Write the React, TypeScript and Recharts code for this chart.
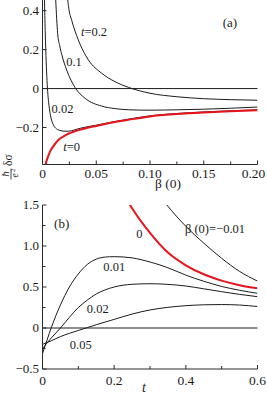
import React from 'react';
import { LineChart, Line, XAxis, YAxis, ReferenceLine, ReferenceDot } from 'recharts';

const SERIF = "'Liberation Serif', 'DejaVu Serif', 'Times New Roman', serif";
const INK = '#1c1c1c';
const FRAME = '#2a2a2a';
const RED = '#e8141c';

// ---------- Panel (a): x = β(0), y = (ħ/e²) δσ ----------
const aXDomain: [number, number] = [0, 0.2];
const aYDomain: [number, number] = [-0.39, 0.46];
const aXMajor = [0, 0.05, 0.1, 0.15, 0.2];
const aXMajorText = ['0', '0.05', '0.10', '0.15', '0.20'];
const aXMinor = [0.025, 0.075, 0.125, 0.175];
const aYMajor = [-0.2, 0, 0.2, 0.4];
const aYMajorText = ['\u22120.2', '0', '0.2', '0.4'];
const aYMinor = [-0.3, -0.1, 0.1, 0.3];

// t = 0 (red)
const aT0 = [
  [0.0018, -0.46], [0.003, -0.39], [0.0045, -0.36], [0.007, -0.324], [0.01, -0.297],
  [0.0147, -0.264], [0.02, -0.244], [0.024, -0.232], [0.03, -0.219], [0.04, -0.204],
  [0.05, -0.192], [0.0675, -0.172], [0.08, -0.16], [0.1, -0.143], [0.125, -0.131],
  [0.15, -0.123], [0.175, -0.117], [0.2, -0.112],
];
// t = 0.02
const aT002 = [
  [0.0015, 0.6], [0.0019, 0.45], [0.0026, 0.28], [0.0034, 0.14], [0.0042, 0.04],
  [0.005, -0.03], [0.006, -0.085], [0.0075, -0.14], [0.01, -0.185], [0.013, -0.207],
  [0.0163, -0.215], [0.02, -0.219], [0.024, -0.219], [0.03, -0.212], [0.035, -0.204],
  [0.04, -0.198], [0.05, -0.188], [0.0675, -0.169], [0.08, -0.157], [0.1, -0.14],
  [0.125, -0.128], [0.15, -0.12], [0.175, -0.114], [0.2, -0.109],
];
// t = 0.1
const aT01 = [
  [0.011, 0.62], [0.0123, 0.455], [0.0141, 0.283], [0.016, 0.22], [0.0179, 0.175],
  [0.0225, 0.095], [0.0303, 0.005], [0.0396, -0.05], [0.055, -0.09], [0.0675, -0.103],
  [0.08, -0.109], [0.1, -0.111], [0.125, -0.109], [0.15, -0.106], [0.175, -0.101],
  [0.2, -0.095],
];
// t = 0.2
const aT02 = [
  [0.0225, 0.52], [0.0235, 0.455], [0.0245, 0.41], [0.0272, 0.35], [0.0333, 0.25],
  [0.0427, 0.147], [0.055, 0.079], [0.0675, 0.035], [0.08, 0.006], [0.1, -0.024],
  [0.125, -0.042], [0.15, -0.052], [0.175, -0.057], [0.2, -0.06],
];

// ---------- Panel (b): x = t, y = (ħ/e²) δσ ----------
const bXDomain: [number, number] = [0, 0.6];
const bYDomain: [number, number] = [-0.5, 1.5];
const bXMajor = [0, 0.2, 0.4, 0.6];
const bXMajorText = ['0', '0.2', '0.4', '0.6'];
const bXMinor = [0.1, 0.3, 0.5];
const bYMajor = [-0.5, 0, 0.5, 1, 1.5];
const bYMajorText = ['\u22120.5', '0', '0.5', '1.0', '1.5'];
const bYMinor = [-0.25, 0.25, 0.75, 1.25];

// β(0) = −0.01
const bNeg001 = [
  [0.3, 1.77], [0.347, 1.5], [0.4, 1.24], [0.45, 1.035], [0.5, 0.85], [0.55, 0.69], [0.6, 0.572],
];
// β(0) = 0 (red)
const bZero = [
  [0.2, 1.86], [0.25, 1.46], [0.3, 1.16], [0.35, 0.92], [0.4, 0.765], [0.45, 0.655],
  [0.5, 0.578], [0.55, 0.522], [0.6, 0.485],
];
// β(0) = 0.01
const b001 = [
  [0, -0.31], [0.0125, -0.15], [0.025, 0.01], [0.05, 0.28], [0.075, 0.5], [0.1, 0.66],
  [0.125, 0.775], [0.15, 0.84], [0.175, 0.865], [0.2, 0.87], [0.25, 0.855], [0.3, 0.805],
  [0.35, 0.735], [0.4, 0.645], [0.45, 0.57], [0.5, 0.507], [0.55, 0.46], [0.6, 0.423],
];
// β(0) = 0.02
const b002 = [
  [0, -0.25], [0.025, -0.12], [0.05, 0.0], [0.075, 0.13], [0.1, 0.25], [0.125, 0.34],
  [0.15, 0.415], [0.175, 0.465], [0.2, 0.5], [0.25, 0.533], [0.3, 0.54], [0.35, 0.532],
  [0.4, 0.512], [0.45, 0.478], [0.5, 0.443], [0.55, 0.41], [0.6, 0.382],
];
// β(0) = 0.05
const b005 = [
  [0, -0.2], [0.025, -0.155], [0.05, -0.105], [0.075, -0.065], [0.1, -0.03], [0.125, 0.005],
  [0.15, 0.04], [0.2, 0.105], [0.25, 0.17], [0.3, 0.22], [0.35, 0.252], [0.4, 0.272],
  [0.45, 0.283], [0.5, 0.286], [0.55, 0.28], [0.6, 0.262],
];

const toPts = (arr: number[][]) => arr.map(([x, y]) => ({ x, y }));

type Side = 'left' | 'right' | 'bottom' | 'top';

const textStyle = (size: number, italic = false): React.CSSProperties => ({
  fontFamily: SERIF,
  fontSize: size,
  fontStyle: italic ? 'italic' : 'normal',
  fill: INK,
});

const makeTick =
  (side: Side, majors: number[], texts: string[] | null, fontSize: number, gap: number, maxX = 1e9) =>
  (props: any) => {
    const { x, y, payload } = props;
    const v = Number(payload.value);
    const i = majors.findIndex((m) => Math.abs(m - v) < 1e-9);
    const len = i >= 0 ? 4 : 3;
    let line: React.ReactNode = null;
    let label: React.ReactNode = null;
    if (side === 'left') {
      line = <line x1={x} x2={x + len} y1={y} y2={y} stroke={FRAME} strokeWidth={1} />;
      if (texts && i >= 0)
        label = (
          <text x={x - gap} y={y + 4.3} textAnchor="end" style={textStyle(fontSize)}>
            {texts[i]}
          </text>
        );
    } else if (side === 'right') {
      line = <line x1={x} x2={x - len} y1={y} y2={y} stroke={FRAME} strokeWidth={1} />;
    } else if (side === 'bottom') {
      line = <line x1={x} x2={x} y1={y} y2={y - len} stroke={FRAME} strokeWidth={1} />;
      if (texts && i >= 0)
        label = (
          <text x={Math.min(x, maxX)} y={y + gap} textAnchor="middle" style={textStyle(fontSize)}>
            {texts[i]}
          </text>
        );
    } else {
      line = <line x1={x} x2={x} y1={y} y2={y + len} stroke={FRAME} strokeWidth={1} />;
    }
    return (
      <g>
        {line}
        {label}
      </g>
    );
  };

const note =
  (content: React.ReactNode, size = 12.5) =>
  (p: any) =>
    (
      <text x={p.cx} y={p.cy + 4.3} textAnchor="middle" style={textStyle(size)}>
        {content}
      </text>
    );

const axisLine = { stroke: FRAME, strokeWidth: 1 };

const PanelA = () => (
  <LineChart width={267} height={196} margin={{ top: 0, right: 9.5, bottom: 0, left: 0 }}>
    <XAxis
      dataKey="x"
      type="number"
      domain={aXDomain}
      ticks={[...aXMajor, ...aXMinor].sort((p, q) => p - q)}
      interval={0}
      allowDataOverflow
      height={30.5}
      tickSize={0}
      tickMargin={0}
      tickLine={false}
      axisLine={axisLine}
      tick={makeTick('bottom', aXMajor, aXMajorText, 13.5, 13.5, 253.5)}
      label={(p: any) => {
        const vb = p.viewBox || { x: 42.5, y: 165.5 };
        return (
          <text x={vb.x + 125.5} y={vb.y + 23.5} textAnchor="middle" style={textStyle(13.5)}>
            β (0)
          </text>
        );
      }}
    />
    <YAxis
      dataKey="y"
      type="number"
      domain={aYDomain}
      ticks={aYMajor}
      interval={0}
      allowDataOverflow
      width={42.5}
      tickSize={0}
      tickMargin={0}
      tickLine={false}
      axisLine={axisLine}
      tick={makeTick('left', aYMajor, aYMajorText, 13, 3.5)}
    />
    <YAxis
      yAxisId="r"
      orientation="right"
      type="number"
      domain={aYDomain}
      ticks={[...aYMajor, ...aYMinor].sort((p, q) => p - q)}
      interval={0}
      allowDataOverflow
      width={0}
      tickSize={0}
      tickMargin={0}
      tickLine={false}
      axisLine={axisLine}
      tick={makeTick('right', aYMajor, null, 13, 0)}
    />
    <ReferenceLine y={0} stroke={INK} strokeWidth={1} />
    <Line data={toPts(aT02)} dataKey="y" type="monotone" stroke={INK} strokeWidth={1} dot={false} isAnimationActive={false} />
    <Line data={toPts(aT01)} dataKey="y" type="monotone" stroke={INK} strokeWidth={1} dot={false} isAnimationActive={false} />
    <Line data={toPts(aT002)} dataKey="y" type="monotone" stroke={INK} strokeWidth={1} dot={false} isAnimationActive={false} />
    <Line data={toPts(aT0)} dataKey="y" type="monotone" stroke={RED} strokeWidth={2} dot={false} isAnimationActive={false} />
    <ReferenceDot x={0.1744} y={0.338} r={0} shape={note('(a)', 13)} />
    <ReferenceDot
      x={0.0479}
      y={0.292}
      r={0}
      shape={note(
        <>
          <tspan style={{ fontStyle: 'italic' }}>t</tspan>
          {'=0.2'}
        </>
      )}
    />
    <ReferenceDot x={0.0293} y={0.138} r={0} shape={note('0.1')} />
    <ReferenceDot x={0.0186} y={-0.101} r={0} shape={note('0.02')} />
    <ReferenceDot
      x={0.0272}
      y={-0.299}
      r={0}
      shape={note(
        <>
          <tspan style={{ fontStyle: 'italic' }}>t</tspan>
          {'=0'}
        </>
      )}
    />
  </LineChart>
);

const PanelB = () => (
  <LineChart width={267} height={200} margin={{ top: 10, right: 9.5, bottom: 0, left: 0 }}>
    <XAxis
      dataKey="x"
      type="number"
      domain={bXDomain}
      ticks={[...bXMajor, ...bXMinor].sort((p, q) => p - q)}
      interval={0}
      allowDataOverflow
      height={26}
      tickSize={0}
      tickMargin={0}
      tickLine={false}
      axisLine={axisLine}
      tick={makeTick('bottom', bXMajor, bXMajorText, 13.5, 16)}
      label={(p: any) => {
        const vb = p.viewBox || { x: 42.5, y: 174 };
        return (
          <text x={vb.x + 101.5} y={vb.y + 22.5} textAnchor="middle" style={textStyle(14, true)}>
            t
          </text>
        );
      }}
    />
    <XAxis
      xAxisId="top"
      orientation="top"
      type="number"
      domain={bXDomain}
      ticks={[...bXMajor, ...bXMinor].sort((p, q) => p - q)}
      interval={0}
      allowDataOverflow
      height={0}
      tickSize={0}
      tickMargin={0}
      tickLine={false}
      axisLine={axisLine}
      tick={makeTick('top', bXMajor, null, 14, 0)}
    />
    <YAxis
      dataKey="y"
      type="number"
      domain={bYDomain}
      ticks={[...bYMajor, ...bYMinor].sort((p, q) => p - q)}
      interval={0}
      allowDataOverflow
      width={42.5}
      tickSize={0}
      tickMargin={0}
      tickLine={false}
      axisLine={axisLine}
      tick={makeTick('left', bYMajor, bYMajorText, 13, 3.5)}
    />
    <YAxis
      yAxisId="r"
      orientation="right"
      type="number"
      domain={bYDomain}
      ticks={[...bYMajor, ...bYMinor].sort((p, q) => p - q)}
      interval={0}
      allowDataOverflow
      width={0}
      tickSize={0}
      tickMargin={0}
      tickLine={false}
      axisLine={axisLine}
      tick={makeTick('right', bYMajor, null, 13, 0)}
    />
    <ReferenceLine y={0} stroke={INK} strokeWidth={1} />
    <Line data={toPts(bNeg001)} dataKey="y" type="monotone" stroke={INK} strokeWidth={1} dot={false} isAnimationActive={false} />
    <Line data={toPts(b001)} dataKey="y" type="monotone" stroke={INK} strokeWidth={1} dot={false} isAnimationActive={false} />
    <Line data={toPts(b002)} dataKey="y" type="monotone" stroke={INK} strokeWidth={1} dot={false} isAnimationActive={false} />
    <Line data={toPts(b005)} dataKey="y" type="monotone" stroke={INK} strokeWidth={1} dot={false} isAnimationActive={false} />
    <Line data={toPts(bZero)} dataKey="y" type="monotone" stroke={RED} strokeWidth={2} dot={false} isAnimationActive={false} />
    <ReferenceDot x={0.0536} y={1.277} r={0} shape={note('(b)', 13)} />
    <ReferenceDot x={0.27} y={1.155} r={0} shape={note('0')} />
    <ReferenceDot x={0.4814} y={1.216} r={0} shape={note('β (0)=\u22120.01')} />
    <ReferenceDot x={0.2001} y={0.748} r={0} shape={note('0.01')} />
    <ReferenceDot x={0.1543} y={0.24} r={0} shape={note('0.02')} />
    <ReferenceDot x={0.1069} y={-0.207} r={0} shape={note('0.05')} />
  </LineChart>
);

export default function App() {
  return (
    <div style={{ position: 'absolute', left: 0, top: 0, width: 267, height: 395, overflow: 'hidden', background: '#fff' }}>
      <div style={{ position: 'absolute', left: 0, top: -1 }}>
        <PanelA />
      </div>
      <div style={{ position: 'absolute', left: 0, top: 195 }}>
        <PanelB />
      </div>
      <svg style={{ position: 'absolute', left: 0, top: 140 }} width={26} height={48}>
        <g transform="translate(2.5,40) rotate(-90)">
          <text x={6} y={6.5} textAnchor="middle" style={textStyle(11, true)}>
            ħ
          </text>
          <line x1={0.5} x2={11.5} y1={8.5} y2={8.5} stroke={INK} strokeWidth={0.8} />
          <text x={4.5} y={15} textAnchor="middle" style={textStyle(9.5, true)}>
            e
          </text>
          <text x={8} y={12} style={textStyle(6.5)}>
            2
          </text>
          <text x={14} y={9} style={textStyle(11.5)}>
            δσ
          </text>
        </g>
      </svg>
    </div>
  );
}
